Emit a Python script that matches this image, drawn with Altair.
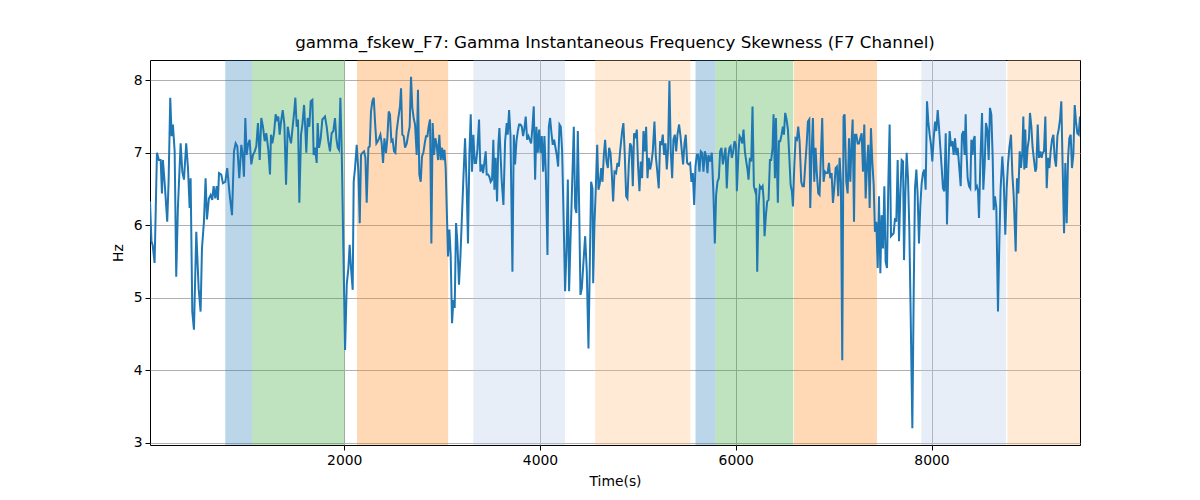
import altair as alt
import pandas as pd

# ---- data ----
times = [15, 30, 42, 62, 86, 106, 124, 137, 147, 164, 191, 205, 222, 236, 249, 267, 283, 300, 328, 345,
         362, 385, 403, 420, 430, 447, 464, 488, 512, 532, 546, 566, 583, 597, 617, 635, 651, 665, 682, 696,
         709, 720, 743, 760, 784, 804, 829, 853, 873, 890, 907, 927, 948, 962, 975, 989, 1003, 1016, 1033, 1050,
         1067, 1085, 1101, 1118, 1136, 1152, 1169, 1187, 1203,
         1224, 1241, 1251, 1265, 1282, 1299, 1313, 1326, 1340, 1354, 1371, 1388, 1405, 1422, 1439, 1456, 1473, 1490, 1500, 1514,
         1527, 1541, 1558, 1572, 1589, 1602, 1612, 1626, 1643, 1657, 1674, 1687, 1701, 1718, 1728, 1742, 1759, 1776, 1790, 1803,
         1820, 1837, 1854, 1871, 1888, 1905, 1919, 1933, 1946, 1960, 1974, 2008, 2025, 2042, 2055, 2069, 2086, 2096, 2110, 2127,
         2144, 2158, 2171, 2185, 2202, 2216, 2229, 2246, 2260, 2273, 2287, 2301, 2314, 2328, 2342, 2355, 2369, 2382, 2396, 2410,
         2426, 2440, 2454, 2467, 2481, 2494, 2508, 2522, 2535, 2552, 2569, 2580, 2593, 2607, 2621, 2638, 2655, 2668, 2682, 2695,
         2709, 2723, 2740, 2753, 2767, 2781, 2794, 2808, 2822, 2835, 2849, 2862, 2876, 2890, 2903, 2917, 2931, 2944, 2958, 2971,
         2985, 2999, 3012, 3023, 3036, 3046, 3060, 3074, 3087, 3101, 3115, 3128, 3142, 3155, 3172, 3186, 3200, 3217, 3234, 3251,
         3264, 3278, 3292, 3305, 3319, 3333, 3346, 3360, 3377, 3391, 3404, 3418, 3431, 3445, 3455, 3469, 3482, 3496, 3510, 3523,
         3534, 3547, 3561, 3574, 3585,
         3609, 3626, 3643, 3660, 3670, 3684, 3698, 3718, 3732, 3745, 3759, 3773, 3786, 3800, 3814, 3827, 3841, 3854, 3868, 3882,
         3895, 3909, 3923, 3936, 3950, 3963, 3977, 3991, 4004, 4018, 4032, 4045, 4059, 4076, 4090, 4103, 4117, 4130, 4144, 4158,
         4171, 4185, 4199, 4212, 4226, 4243, 4256, 4270, 4284, 4297, 4311, 4325, 4345, 4359, 4372, 4386, 4400, 4413, 4427, 4444,
         4461, 4478, 4495, 4509, 4522, 4536, 4543, 4556, 4570, 4584, 4597, 4611, 4625, 4638, 4652, 4665, 4679, 4693, 4706, 4720,
         4733, 4747, 4761,
         4777, 4791, 4805, 4818, 4839, 4852, 4866, 4880, 4893, 4907, 4920, 4934, 4948, 4961, 4975, 4989, 5002, 5016, 5029, 5043,
         5057, 5070, 5084, 5098, 5111, 5125, 5138, 5152, 5169, 5183, 5196, 5213, 5227, 5241, 5254, 5268, 5282, 5295, 5309, 5322,
         5336, 5350, 5363, 5377, 5391, 5404, 5421, 5435, 5449, 5462, 5476, 5489, 5503, 5517, 5534, 5547, 5561, 5575, 5588, 5602,
         5615, 5629, 5643, 5656, 5670, 5684, 5697, 5711, 5721, 5738, 5755, 5772, 5786, 5799, 5813, 5827, 5840, 5854, 5868, 5881,
         5895, 5908, 5922, 5936,
         5947, 5960, 5974, 5987, 6001, 6011, 6028, 6039, 6052, 6066, 6079, 6093, 6107, 6120, 6130, 6144, 6158, 6171, 6185, 6199,
         6209, 6219, 6233, 6246, 6260, 6274, 6284, 6294, 6308, 6321, 6335, 6349, 6362, 6376, 6386, 6400, 6410, 6420, 6430, 6441,
         6454, 6468, 6481, 6492, 6505, 6519, 6533, 6546, 6560, 6573, 6584, 6597, 6611, 6625, 6638, 6652, 6669, 6682, 6696, 6710,
         6723, 6737, 6751, 6761, 6774, 6788, 6802, 6815, 6829, 6843, 6856, 6870, 6883, 6897, 6911, 6924, 6938, 6952, 6965, 6979,
         6993, 7006, 7020, 7033, 7047, 7061, 7074, 7088, 7101, 7112,
         7129, 7143, 7157, 7170, 7184, 7194, 7208, 7218, 7232, 7245, 7259, 7272, 7286, 7300, 7313, 7327, 7341, 7354, 7368, 7381,
         7395, 7409, 7422, 7436, 7450, 7463, 7477, 7490, 7504, 7518, 7531, 7545, 7559, 7572, 7586, 7599, 7613, 7627, 7640, 7654,
         7668, 7681, 7695, 7709, 7719, 7732, 7746, 7760, 7773, 7787, 7804, 7818, 7831, 7845, 7858, 7872, 7886, 7899, 7913, 7927,
         7940, 7954, 7967, 7981, 7995, 8008, 8022, 8036, 8049, 8063, 8076, 8090, 8104, 8117, 8131, 8145, 8158, 8172, 8185, 8199,
         8213, 8226, 8240, 8254, 8267, 8281,
         8298, 8311, 8325, 8338, 8349, 8359, 8369, 8383, 8396, 8407, 8420, 8430, 8441, 8451, 8464, 8475, 8485, 8499, 8516, 8529,
         8543, 8556, 8570, 8584, 8597, 8611, 8625, 8635, 8648, 8662, 8679, 8693, 8706, 8723, 8737, 8754, 8768, 8781, 8795, 8812,
         8826, 8839, 8860, 8873, 8887, 8901, 8914, 8928, 8938, 8948, 8958, 8969, 8982, 8996, 9006, 9020, 9033, 9047, 9061, 9071,
         9085, 9098, 9112, 9125, 9136, 9149, 9163, 9177, 9190, 9204, 9217, 9231, 9245, 9258, 9272, 9286, 9299, 9313, 9326, 9340,
         9354, 9367, 9381, 9395, 9408, 9422, 9435, 9449, 9463, 9476, 9490, 9504, 9517]

values = [6.33, 5.78, 5.73, 5.48, 7.00, 6.90, 6.90, 6.44, 6.90, 6.60, 6.05, 6.60, 7.76, 7.23, 7.39, 7.02, 5.29, 6.24, 7.13, 6.74,
          6.63, 7.13, 6.79, 6.24, 6.65, 4.81, 4.56, 5.91, 5.13, 4.81, 5.68, 6.05, 6.65, 6.08, 6.37, 6.42, 6.35, 6.54, 6.37, 6.54,
          6.35, 6.72, 6.70, 6.58, 6.60, 6.79, 6.42, 6.14, 7.02, 7.13, 7.09, 6.65, 7.11, 6.97, 6.67, 7.48, 6.97, 7.11, 7.18, 6.84,
          6.97, 7.02, 7.09, 7.41, 6.90, 7.48, 7.36, 7.16, 7.27,
          7.04, 6.70, 7.25, 7.13, 7.27, 7.53, 7.46, 7.50, 7.25, 7.43, 7.59, 7.39, 6.56, 7.36, 7.23, 7.13, 7.36, 7.59, 7.76, 7.36,
          7.46, 6.31, 7.25, 7.39, 7.66, 7.32, 7.00, 7.48, 7.36, 7.71, 7.73, 6.97, 7.07, 6.86, 7.41, 7.07, 7.20, 7.46, 7.48, 7.50,
          7.36, 7.16, 7.02, 7.27, 7.30, 7.48, 7.20, 7.07, 7.04, 7.76, 7.02, 4.28, 5.18, 5.41, 5.73, 5.41, 5.11, 6.60, 6.79, 7.11,
          6.74, 6.03, 6.97, 7.00, 7.02, 6.93, 6.31, 7.07, 7.09, 7.57, 7.71, 7.76, 7.43, 7.13, 7.16, 7.20, 7.25, 7.13, 6.86, 7.20,
          7.00, 7.20, 7.57, 7.53, 7.16, 7.18, 7.02, 7.00, 7.30, 7.48, 7.64, 7.89, 7.25, 7.23, 7.07, 7.13, 7.27, 7.36, 8.05, 7.62,
          7.48, 7.39, 6.97, 7.87, 6.70, 6.60, 6.95, 7.00, 7.13, 7.23, 7.23, 7.36, 7.46, 5.75, 7.41, 6.97, 7.20, 7.11, 6.90, 7.25,
          6.90, 7.07, 6.90, 7.04, 6.79, 6.28, 5.57, 5.94, 5.59, 4.65, 4.97, 4.86, 6.03, 5.78, 5.18, 5.55, 6.05, 6.65, 7.20, 6.51,
          5.75, 6.97, 7.53, 6.74, 7.25, 6.86, 6.86, 7.04, 7.46, 6.74, 6.84, 6.72, 6.86, 7.02, 6.70, 6.70, 6.67, 6.60, 6.63, 7.18,
          6.49, 6.93, 6.33, 7.11, 7.34,
          6.60, 6.28, 7.16, 7.41, 7.25, 7.59, 7.25, 5.36, 7.25, 6.84, 7.16, 7.30, 7.39, 7.39, 7.36, 7.23, 7.34, 7.50, 7.18, 7.23,
          7.18, 7.13, 7.36, 7.64, 6.63, 7.36, 7.00, 7.32, 7.00, 7.23, 6.74, 7.23, 6.74, 5.59, 7.36, 7.48, 7.27, 7.11, 7.18, 7.07,
          6.97, 6.81, 7.39, 7.36, 7.02, 5.96, 5.09, 5.64, 6.63, 5.09, 5.78, 6.42, 7.36, 6.24, 6.17, 7.30, 6.24, 5.04, 5.13, 5.50,
          5.85, 5.36, 4.30, 5.50, 6.60, 6.51, 5.20, 6.01, 6.51, 7.11, 6.49, 6.58, 6.79, 6.60, 6.97, 7.18, 6.88, 6.79, 7.07, 7.00,
          6.72, 6.33, 6.74,
          6.72, 6.86, 6.81, 7.02, 7.30, 7.41, 6.97, 6.40, 6.37, 6.84, 7.13, 7.09, 6.54, 7.27, 7.20, 7.32, 6.81, 6.47, 6.88, 6.65,
          7.30, 7.02, 7.36, 6.65, 6.93, 6.77, 6.86, 7.02, 7.43, 6.95, 6.77, 6.51, 7.16, 7.11, 7.25, 6.97, 7.13, 6.77, 7.07, 7.99,
          7.02, 6.65, 7.18, 7.25, 7.02, 7.25, 7.39, 7.23, 7.02, 6.84, 7.13, 7.25, 6.86, 6.84, 6.86, 6.60, 6.72, 6.28, 6.81, 6.97,
          6.97, 6.74, 7.02, 7.00, 6.74, 7.02, 6.95, 6.72, 6.97, 6.88, 7.00, 6.42, 5.75, 6.42, 6.60, 6.65, 7.02, 7.07, 6.84, 6.95,
          7.07, 6.51, 6.93, 7.07,
          7.09, 6.93, 7.02, 7.16, 7.11, 6.47, 7.02, 7.23, 7.20, 7.13, 7.32, 7.02, 6.88, 6.77, 6.63, 6.93, 6.88, 7.64, 6.54, 6.47,
          6.51, 5.36, 6.28, 6.54, 6.51, 6.54, 6.37, 5.85, 6.14, 6.33, 6.35, 6.90, 6.90, 7.07, 7.53, 6.65, 7.48, 6.84, 6.31, 7.16,
          7.16, 7.25, 7.36, 7.25, 7.55, 7.46, 7.32, 6.97, 6.56, 6.47, 6.26, 6.79, 7.20, 7.18, 7.36, 7.16, 6.60, 6.54, 6.54, 6.84,
          7.09, 7.43, 7.46, 6.24, 6.97, 7.48, 6.60, 7.07, 6.70, 6.44, 6.42, 6.97, 7.48, 6.60, 6.74, 6.72, 6.72, 6.86, 6.65, 6.72,
          6.31, 6.51, 6.79, 6.81, 6.40, 6.93, 6.60, 4.14, 7.50, 7.53,
          6.60, 6.44, 7.20, 6.60, 7.16, 7.46, 6.05, 7.25, 7.25, 7.13, 7.13, 7.20, 7.27, 6.74, 7.39, 6.37, 6.84, 7.11, 6.24, 7.34,
          6.88, 6.56, 5.91, 6.05, 5.41, 6.40, 5.34, 6.14, 5.68, 6.54, 5.50, 5.41, 6.60, 7.39, 5.85, 5.87, 5.89, 6.10, 6.05, 6.90,
          5.78, 6.42, 6.90, 6.88, 5.52, 6.42, 7.00, 6.65, 5.96, 4.76, 3.20, 5.09, 6.51, 6.77, 6.42, 5.75, 6.28, 6.58, 6.72, 6.77,
          6.49, 7.71, 7.43, 7.25, 7.11, 6.88, 7.20, 7.43, 7.30, 7.59, 7.36, 7.07, 6.79, 6.51, 6.47, 7.27, 6.01, 6.79, 7.30, 7.09,
          7.16, 6.97, 7.20, 6.97, 7.07, 6.84,
          6.54, 7.25, 7.30, 6.97, 7.53, 6.97, 6.65, 6.54, 6.51, 7.18, 6.97, 7.18, 7.23, 6.51, 6.54, 6.47, 6.10, 6.88, 7.55, 6.49,
          6.84, 7.41, 7.32, 6.90, 7.62, 7.53, 6.93, 6.21, 6.40, 6.24, 4.81, 5.78, 6.51, 6.95, 6.65, 5.87, 6.51, 6.84, 7.07, 7.25,
          6.70, 6.42, 5.64, 6.65, 6.44, 7.02, 6.79, 7.02, 7.50, 6.77, 7.32, 6.79, 7.07, 7.20, 7.55, 7.36, 7.07, 6.90, 6.74, 6.79,
          7.39, 6.93, 7.02, 6.93, 7.00, 7.02, 7.50, 6.51, 6.93, 6.79, 7.02, 7.18, 7.25, 6.93, 6.81, 7.23, 7.32, 7.46, 7.71, 6.79,
          5.89, 6.86, 6.03, 6.93, 7.20, 7.25, 6.79, 6.97, 7.66, 7.43, 7.27, 7.25, 7.50]

span_start = [784, 1057, 2130, 3319, 4563, 5589, 5793, 6594, 7896, 8775]
span_end = [1057, 2001, 3061, 4256, 5535, 5793, 6587, 7442, 8761, 9517]
span_kind = ["k1", "k2", "k3", "k4", "k5", "k1", "k2", "k3", "k4", "k5"]

kind_domain = ["k1", "k2", "k3", "k4", "k5"]
kind_colors = ["#1f77b4", "#2ca02c", "#ff7f0e", "#aec7e8", "#ffbb78"]

x_ticks = [2000, 4000, 6000, 8000]
y_ticks = [3, 4, 5, 6, 7, 8]

line_df = pd.DataFrame({"t": times, "v": values})
span_df = pd.DataFrame({"start": span_start, "end": span_end, "kind": span_kind})

W, H = 930, 385
FONT = "DejaVu Sans"

xscale = alt.Scale(domain=[15, 9517], nice=False, zero=False)
yscale = alt.Scale(domain=[2.97, 8.28], nice=False, zero=False)

spans = alt.Chart(span_df).mark_rect(opacity=0.3).encode(
    x=alt.X("start:Q", scale=xscale,
            axis=alt.Axis(values=x_ticks, title="Time(s)", format="d")),
    x2="end:Q",
    y=alt.value(0),
    y2=alt.value(H),
    color=alt.Color("kind:N", scale=alt.Scale(domain=kind_domain, range=kind_colors), legend=None),
)

line = alt.Chart(line_df).mark_line(color="#1f77b4", strokeWidth=2, clip=True).encode(
    x=alt.X("t:Q", scale=xscale),
    y=alt.Y("v:Q", scale=yscale, axis=alt.Axis(values=y_ticks, title="Hz", format="d")),
)

chart = alt.layer(spans, line).properties(
    width=W,
    height=H,
    title=alt.TitleParams(
        "gamma_fskew_F7: Gamma Instantaneous Frequency Skewness (F7 Channel)",
        font=FONT, fontSize=16.7, fontWeight="normal", color="black", anchor="middle", offset=8,
    ),
    padding={"left": 142, "top": 52, "right": 100, "bottom": 52},
    autosize=alt.AutoSizeParams(type="none"),
).configure_view(
    stroke="black", strokeWidth=1
).configure_axis(
    labelFont=FONT, labelFontSize=13.9, labelColor="black",
    titleFont=FONT, titleFontSize=13.9, titleFontWeight="normal", titleColor="black",
    grid=True, gridColor="#b0b0b0", gridWidth=1,
    domain=False, tickColor="black", tickSize=5, tickWidth=1, labelPadding=3,
).configure_axisX(
    titlePadding=8,
).configure_axisY(
    titlePadding=8,
)

chart.save("out.html", embed_options={"renderer": "svg", "actions": False})
